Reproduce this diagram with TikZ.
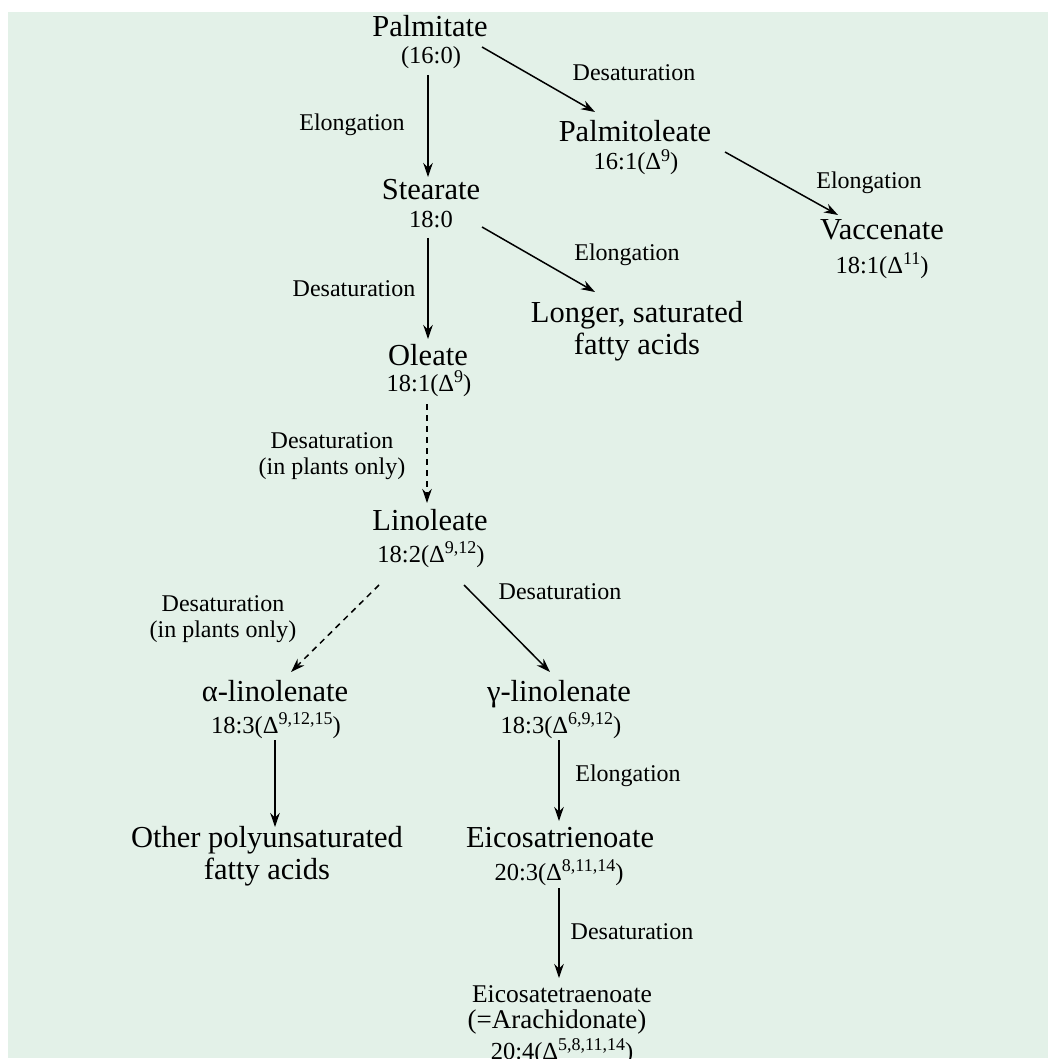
\documentclass[tikz,border=0pt]{standalone}
\usepackage{fontspec}
\setmainfont{Liberation Serif}
\usetikzlibrary{arrows.meta,calc}
\definecolor{bgmint}{RGB}{227,241,232}
\newcommand{\fname}{\fontsize{30.5}{32}\selectfont}
\newcommand{\fsub}{\fontsize{24.5}{26}\selectfont}
\newcommand{\flab}{\fontsize{24}{26}\selectfont}
\newcommand{\dlt}[1]{Δ\raisebox{0.36em}{\fontsize{18}{18}\selectfont #1}}
\begin{document}
\begin{tikzpicture}[x=1pt,y=-1pt,
  cname/.style={font=\fname, inner sep=0pt, anchor=base},
  cname2/.style={font=\fname, inner sep=0pt, anchor=center, align=center},
  csub/.style={font=\fsub, inner sep=0pt, anchor=base},
  clab/.style={font=\flab, inner sep=0pt, anchor=base},
  clab2/.style={font=\flab, inner sep=0pt, anchor=center, align=center},
  arr/.style={line width=1.5pt, -{Stealth[length=14pt,width=9.5pt]}},
  darr/.style={arr, dash pattern=on 6pt off 5pt}]
\useasboundingbox (0,0) rectangle (1048,1059);
\fill[bgmint] (8,12) rectangle (1048,1058);

% compounds
\node[cname] (palm) at (430,37) {Palmitate};
\node[csub] (palmsub) at (431,64) {(16:0)};
\node[cname] (palmo) at (635,142) {Palmitoleate};
\node[csub] (palmosub) at (636,170) {16:1(\dlt{9})};
\node[cname] (stea) at (431,200) {Stearate};
\node[csub] (steasub) at (431,228) {18:0};
\node[cname] (vacc) at (882,240) {Vaccenate};
\node[csub] (vaccsub) at (882,273) {18:1(\dlt{11})};
\node[cname2] (longer) at (637,331) {Longer, saturated\\fatty acids};
\node[cname] (olea) at (428,365) {Oleate};
\node[csub] (oleasub) at (429,391) {18:1(\dlt{9})};
\node[cname] (lino) at (430,530) {Linoleate};
\node[csub] (linosub) at (431,562) {18:2(\dlt{9,12})};
\node[cname] (alpha) at (275,701) {α-linolenate};
\node[csub] (alphasub) at (276,733) {18:3(\dlt{9,12,15})};
\node[cname] (gamma) at (559,701) {γ-linolenate};
\node[csub] (gammasub) at (561,733) {18:3(\dlt{6,9,12})};
\node[cname2] (other) at (267,856) {Other polyunsaturated\\fatty acids};
\node[cname] (eicotri) at (560,847) {Eicosatrienoate};
\node[csub] (eicotrisub) at (559,880) {20:3(\dlt{8,11,14})};
\node[cname, font=\fontsize{25.5}{27}\selectfont] (eicotetra) at (562,1002) {Eicosatetraenoate};
\node[cname, font=\fontsize{27}{29}\selectfont] (arach) at (557,1028) {(=Arachidonate)};
\node[csub] (eicotetrasub) at (562,1059) {20:4(\dlt{5,8,11,14})};

% labels
\node[clab] (l1) at (634,81) {Desaturation};
\node[clab] (l2) at (352,131) {Elongation};
\node[clab] (l3) at (627,261) {Elongation};
\node[clab] (l4) at (354,296) {Desaturation};
\node[clab] (l5) at (869,189) {Elongation};
\node[clab2] (l6) at (332,456) {Desaturation\\(in plants only)};
\node[clab2] (l7) at (223,619) {Desaturation\\(in plants only)};
\node[clab] (l8) at (560,599) {Desaturation};
\node[clab] (l9) at (628,781) {Elongation};
\node[clab] (l10) at (632,939) {Desaturation};

% connectors
\draw[arr] ($(palmsub.base)+(-3,11)$) -- ($(stea.base)+(-3,-23)$);
\draw[arr] ($(palm.base)+(52,10)$) -- ($(palmo.base)+(-40,-30)$);
\draw[arr] ($(steasub.base)+(-3,10)$) -- ($(olea.base)+(0,-26)$);
\draw[arr] ($(stea.base)+(51,27)$) -- ($(longer.center)+(-42,-39)$);
\draw[arr] ($(palmo.base)+(90,10)$) -- ($(vacc.base)+(-44,-25)$);
\draw[darr] ($(oleasub.base)+(-2,13)$) -- ($(lino.base)+(-3,-27)$);
\draw[darr] ($(linosub.base)+(-52,23)$) -- ($(alpha.base)+(16,-29)$);
\draw[arr] ($(linosub.base)+(33,23)$) -- ($(gamma.base)+(-9,-29)$);
\draw[arr] ($(alphasub.base)+(-1,7)$) -- ($(other.center)+(8,-29)$);
\draw[arr] ($(gammasub.base)+(-2,7)$) -- ($(eicotri.base)+(-1,-26)$);
\draw[arr] ($(eicotrisub.base)+(0,8)$) -- ($(eicotetra.base)+(-3,-24)$);
\end{tikzpicture}
\end{document}
